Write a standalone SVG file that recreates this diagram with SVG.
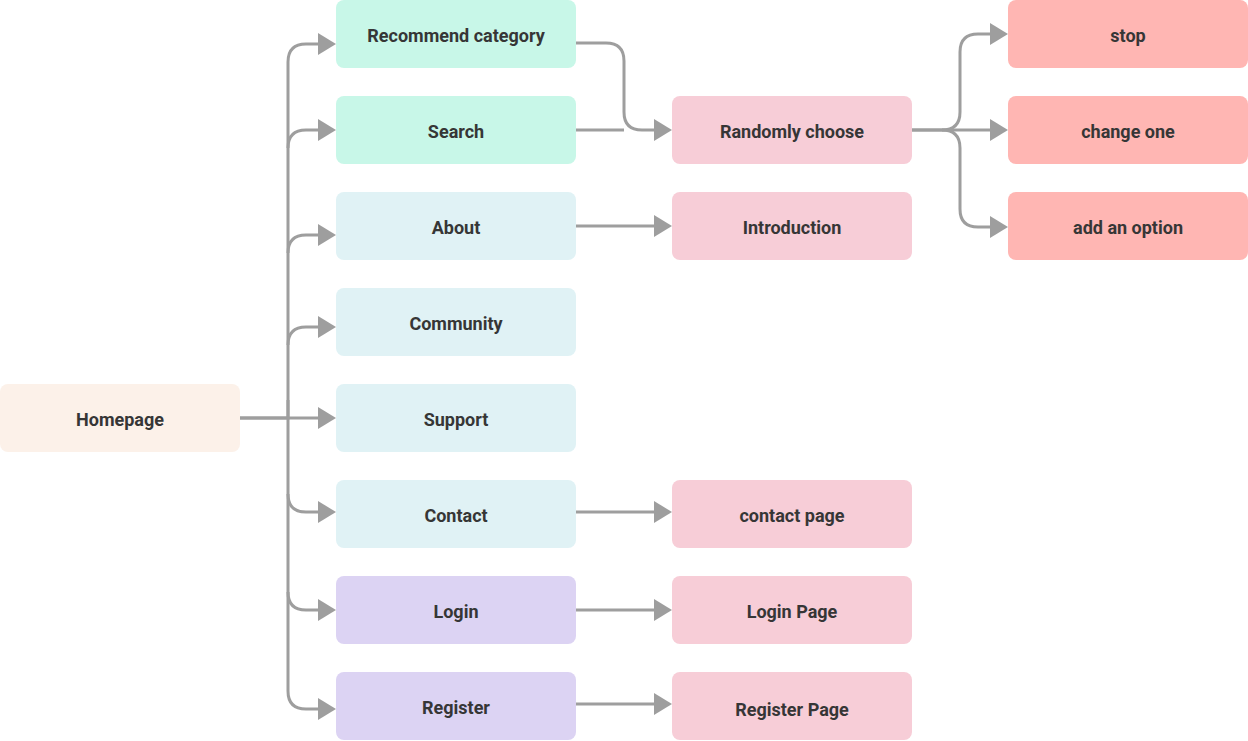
<svg xmlns="http://www.w3.org/2000/svg" width="1248" height="741" viewBox="0 0 1248 741">
<defs>
<marker id="ah" markerUnits="userSpaceOnUse" viewBox="0 0 18 22" refX="0" refY="11" markerWidth="18" markerHeight="22" orient="auto">
<path d="M0 0 L18 11 L0 22 Z" fill="#9E9E9E"/>
</marker>
<style>
.n rect{rx:8px;ry:8px}
.t{font-family:Roboto,"Liberation Sans",sans-serif;font-weight:700;font-size:18px;fill:#363636;text-anchor:middle;dominant-baseline:central}
.c path{fill:none;stroke:#9E9E9E;stroke-width:3}
.c path.a{marker-end:url(#ah)}
.mint{fill:#C8F7E8}.cyan{fill:#E0F2F5}.lav{fill:#DCD3F3}.pink{fill:#F7CDD7}.red{fill:#FFB6B3}.home{fill:#FCF1E9}
</style>
</defs>
<rect width="1248" height="741" fill="#FFFFFF"/>
<g class="c" id="connectors">
<path class="a" d="M240 418 H288 V62 Q288 44 306 44 H318"/>
<path class="a" d="M288 148 Q288 130 306 130 H318"/>
<path class="a" d="M288 253 Q288 235 306 235 H318"/>
<path class="a" d="M288 345 Q288 327 306 327 H318"/>
<path class="a" d="M240 418 H318"/>
<path class="a" d="M288 400 V494 Q288 512 306 512 H318"/>
<path class="a" d="M288 494 V592 Q288 610 306 610 H318"/>
<path class="a" d="M288 592 V691 Q288 709 306 709 H318"/>
<path class="a" d="M576 43 H606 Q624 43 624 61 V112 Q624 130 642 130 H654"/>
<path d="M576 130 H624"/>
<path class="a" d="M576 226 H654"/>
<path class="a" d="M576 512 H654"/>
<path class="a" d="M576 610 H654"/>
<path class="a" d="M576 704 H654"/>
<path class="a" d="M912 130 H942 Q960 130 960 112 V52 Q960 34 978 34 H990"/>
<path class="a" d="M912 130 H990"/>
<path class="a" d="M942 130 Q960 130 960 148 V209 Q960 227 978 227 H990"/>
</g>
<g class="n" id="homepage"><rect class="home" x="0" y="384" width="240" height="68"/><text class="t" x="120" y="419">Homepage</text></g>
<g class="n" id="recommend"><rect class="mint" x="336" y="0" width="240" height="68"/><text class="t" x="456" y="35">Recommend category</text></g>
<g class="n" id="search"><rect class="mint" x="336" y="96" width="240" height="68"/><text class="t" x="456" y="131">Search</text></g>
<g class="n" id="about"><rect class="cyan" x="336" y="192" width="240" height="68"/><text class="t" x="456" y="227">About</text></g>
<g class="n" id="community"><rect class="cyan" x="336" y="288" width="240" height="68"/><text class="t" x="456" y="323">Community</text></g>
<g class="n" id="support"><rect class="cyan" x="336" y="384" width="240" height="68"/><text class="t" x="456" y="419">Support</text></g>
<g class="n" id="contact"><rect class="cyan" x="336" y="480" width="240" height="68"/><text class="t" x="456" y="515">Contact</text></g>
<g class="n" id="login"><rect class="lav" x="336" y="576" width="240" height="68"/><text class="t" x="456" y="611">Login</text></g>
<g class="n" id="register"><rect class="lav" x="336" y="672" width="240" height="68"/><text class="t" x="456" y="707">Register</text></g>
<g class="n" id="randomly"><rect class="pink" x="672" y="96" width="240" height="68"/><text class="t" x="792" y="131">Randomly choose</text></g>
<g class="n" id="introduction"><rect class="pink" x="672" y="192" width="240" height="68"/><text class="t" x="792" y="227">Introduction</text></g>
<g class="n" id="contactpage"><rect class="pink" x="672" y="480" width="240" height="68"/><text class="t" x="792" y="515">contact page</text></g>
<g class="n" id="loginpage"><rect class="pink" x="672" y="576" width="240" height="68"/><text class="t" x="792" y="611">Login Page</text></g>
<g class="n" id="registerpage"><rect class="pink" x="672" y="672" width="240" height="68"/><text class="t" x="792" y="709">Register Page</text></g>
<g class="n" id="stop"><rect class="red" x="1008" y="0" width="240" height="68"/><text class="t" x="1128" y="35">stop</text></g>
<g class="n" id="changeone"><rect class="red" x="1008" y="96" width="240" height="68"/><text class="t" x="1128" y="131">change one</text></g>
<g class="n" id="addoption"><rect class="red" x="1008" y="192" width="240" height="68"/><text class="t" x="1128" y="227">add an option</text></g>
</svg>
